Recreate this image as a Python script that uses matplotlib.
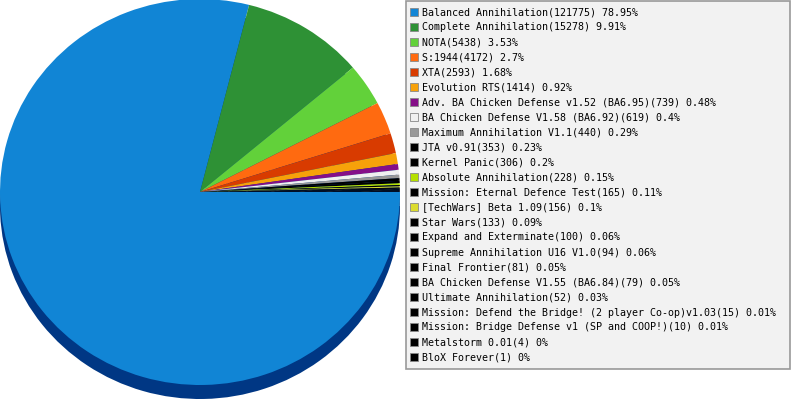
import matplotlib.pyplot as plt
from matplotlib.patches import Rectangle

# games played per mod
mods = [
    "Balanced Annihilation", "Complete Annihilation", "NOTA", "S:1944", "XTA",
    "Evolution RTS", "Adv. BA Chicken Defense v1.52 (BA6.95)",
    "BA Chicken Defense V1.58 (BA6.92)", "Maximum Annihilation V1.1",
    "JTA v0.91", "Kernel Panic", "Absolute Annihilation",
    "Mission: Eternal Defence Test", "[TechWars] Beta 1.09", "Star Wars",
    "Expand and Exterminate", "Supreme Annihilation U16 V1.0", "Final Frontier",
    "BA Chicken Defense V1.55 (BA6.84)", "Ultimate Annihilation",
    "Mission: Defend the Bridge! (2 player Co-op)v1.03",
    "Mission: Bridge Defense v1 (SP and COOP!)", "Metalstorm 0.01", "BloX Forever",
]
games = [121775, 15278, 5438, 4172, 2593, 1414, 739, 619, 440, 353, 306, 228,
         165, 156, 133, 100, 94, 81, 79, 52, 15, 10, 4, 1]
colors = ["#1185d5", "#2e9135", "#62d13a", "#ff6a10", "#d83b00", "#f7a10a",
          "#850f88", "#f0f0f0", "#999999", "#000000", "#000000", "#b5e000",
          "#000000", "#dcdc30", "#000000", "#000000", "#000000", "#000000",
          "#000000", "#000000", "#000000", "#000000", "#000000", "#000000"]

total = sum(games)
labels = ["%s(%d) %s%%" % (m, g, "{:g}".format(round(g / total * 100, 2)))
          for m, g in zip(mods, games)]

W, H = 791, 400
fig = plt.figure(figsize=(W / 100, H / 100), dpi=100)

# pie: centre at (200, 192) px, radii 200 x 193 px, 14 px deep
cx, cy, rx, ry, depth = 200, 192, 200, 193, 14
pie_ax = fig.add_axes([0, 0, 2 * rx / W, 1])
pie_ax.pie(games, colors=["#003784"] * len(games), center=(0, -depth / ry),
           startangle=0, counterclock=False, wedgeprops=dict(linewidth=0))
pie_ax.pie(games, colors=colors, center=(0, 0), startangle=0,
           counterclock=False, wedgeprops=dict(linewidth=0))
pie_ax.set_aspect("auto")
pie_ax.set_xlim(-1, 1)
pie_ax.set_ylim(-(H - cy) / ry, cy / ry)
pie_ax.axis("off")

# legend drawn in pixel coordinates
leg = fig.add_axes([0, 0, 1, 1], facecolor="none")
leg.set_xlim(0, W)
leg.set_ylim(H, 0)
leg.axis("off")
leg.add_patch(Rectangle((405.5, 0.5), 384, 368.5, facecolor="#f2f2f2",
                        edgecolor="#999999", linewidth=1.2))
for i, (lab, c) in enumerate(zip(labels, colors)):
    y = 12 + 15 * i
    leg.add_patch(Rectangle((409.5, y - 4.5), 8.5, 8.5, facecolor=c,
                            edgecolor="#888888", linewidth=0.6))
    leg.text(422, y + 0.5, lab, fontsize=7.2, family="DejaVu Sans Mono",
             va="center", ha="left", color="#000000")

fig.savefig("out.png", dpi=100)
